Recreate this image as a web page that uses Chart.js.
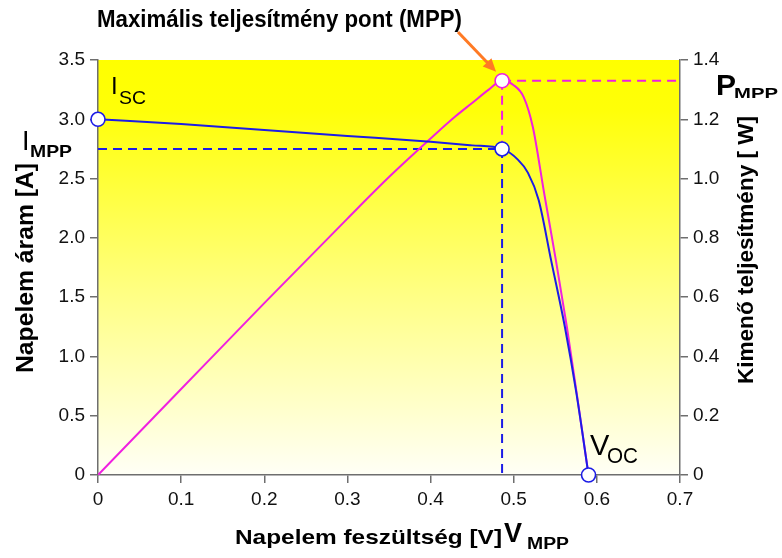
<!DOCTYPE html>
<html>
<head>
<meta charset="utf-8">
<script src="https://cdn.jsdelivr.net/npm/chart.js@4.4.1/dist/chart.umd.min.js"></script>
<style>
	body { margin: 0; background: #fff; }
	#chart { display: block; }
</style>
</head>
<body>
<canvas id="chart" width="782" height="558"></canvas>
<script>
// feszültség [V] és áram [A] a jelleggörbén
const voltsI = [0, 0.1, 0.2, 0.3, 0.4, 0.45, 0.486, 0.505, 0.517, 0.53, 0.545, 0.5615, 0.5754, 0.59];
const current = [3.0, 2.96, 2.91, 2.86, 2.81, 2.78, 2.75, 2.66, 2.55, 2.32, 1.81, 1.25, 0.69, 0];

// feszültség [V] és teljesítmény [W]
const voltsP = [0, 0.1, 0.2, 0.3, 0.35, 0.4, 0.43, 0.45, 0.47, 0.486, 0.5, 0.512, 0.523, 0.5366, 0.5507, 0.5639, 0.5757, 0.59];
const power = [0, 0.29, 0.58, 0.865, 1.005, 1.135, 1.21, 1.255, 1.30, 1.33, 1.315, 1.275, 1.174, 0.951, 0.725, 0.50, 0.277, 0];

// jellemző pontok
const vMpp = 0.486;
const iMpp = 2.75;
const pMpp = 1.33;
const iSc = 3.0;
const vOc = 0.59;

const xTicks = [0, 0.1, 0.2, 0.3, 0.4, 0.5, 0.6, 0.7];
const xLabels = ['0', '0.1', '0.2', '0.3', '0.4', '0.5', '0.6', '0.7'];
const yTicks = [0, 0.5, 1, 1.5, 2, 2.5, 3, 3.5];
const yLabels = ['0', '0.5', '1.0', '1.5', '2.0', '2.5', '3.0', '3.5'];
const y1Ticks = [0, 0.2, 0.4, 0.6, 0.8, 1.0, 1.2, 1.4];
const y1Labels = ['0', '0.2', '0.4', '0.6', '0.8', '1.0', '1.2', '1.4'];

const BLUE = '#1c1ce6';
const PINK = '#f020e0';
const AXIS = '#6e6e6e';
const FONT = '"Liberation Sans", Arial';

const toPts = (xs, ys) => xs.map((x, i) => ({x, y: ys[i]}));

// szöveg, ha kell adott szélességre sűrítve
function fitText(c, text, x, y, font, w, rot) {
	c.save();
	c.font = font;
	const m = c.measureText(text).width;
	c.translate(x, y);
	if (rot) c.rotate(rot);
	if (w) c.scale(w / m, 1);
	c.textAlign = 'left';
	c.textBaseline = 'alphabetic';
	c.fillText(text, 0, 0);
	c.restore();
}

const bgPlugin = {
	id: 'bg',
	beforeDraw(chart) {
		const {ctx: c, chartArea: a} = chart;
		const g = c.createLinearGradient(0, a.top, 0, a.bottom);
		g.addColorStop(0, '#ffff00');
		g.addColorStop(0.12, '#ffff08');
		g.addColorStop(0.55, '#ffff80');
		g.addColorStop(1, '#fffff6');
		c.save();
		c.fillStyle = g;
		c.fillRect(a.left, a.top, a.right - a.left, a.bottom - a.top);
		c.restore();
	}
};

const textPlugin = {
	id: 'texts',
	afterDraw(chart) {
		const c = chart.ctx;
		const xs = chart.scales.x;
		const ys1 = chart.scales.y1;
		c.save();
		c.fillStyle = '#000';

		fitText(c, 'Maximális teljesítmény pont (MPP)', 97, 27, 'bold 24px ' + FONT, 365);
		fitText(c, 'Napelem feszültség [V]', 235, 544, 'bold 21px ' + FONT, 267);
		fitText(c, 'V', 504, 542, 'bold 27px ' + FONT);
		fitText(c, 'MPP', 527, 549, 'bold 16px ' + FONT, 42);

		fitText(c, 'Napelem áram [A]', 33, 373, 'bold 23px ' + FONT, 210, -Math.PI / 2);
		fitText(c, 'I', 22, 150, '27px ' + FONT);
		fitText(c, 'MPP', 30, 157, 'bold 17px ' + FONT, 42);

		fitText(c, 'Kimenő teljesítmény [ W]', 753, 384, 'bold 22px ' + FONT, 268, -Math.PI / 2);
		fitText(c, 'P', 716, 95, 'bold 30px ' + FONT);
		fitText(c, 'MPP', 734, 98, 'bold 15px ' + FONT, 44);

		fitText(c, 'I', 111, 94, '24px ' + FONT);
		fitText(c, 'SC', 119, 104, '18px ' + FONT, 27);
		fitText(c, 'V', 590, 455, '29px ' + FONT);
		fitText(c, 'OC', 607, 463, '22px ' + FONT, 31);

		// nyíl az MPP ponthoz
		const tx = xs.getPixelForValue(vMpp) - 6;
		const ty = ys1.getPixelForValue(pMpp) - 9;
		const sx = 458, sy = 32;
		const ang = Math.atan2(ty - sy, tx - sx);
		c.strokeStyle = '#ff7a24';
		c.fillStyle = '#ff7a24';
		c.lineWidth = 3;
		c.beginPath();
		c.moveTo(sx, sy);
		c.lineTo(tx - 10 * Math.cos(ang), ty - 10 * Math.sin(ang));
		c.stroke();
		c.beginPath();
		c.moveTo(tx, ty);
		c.lineTo(tx - 13 * Math.cos(ang) + 6 * Math.sin(ang), ty - 13 * Math.sin(ang) - 6 * Math.cos(ang));
		c.lineTo(tx - 13 * Math.cos(ang) - 6 * Math.sin(ang), ty - 13 * Math.sin(ang) + 6 * Math.cos(ang));
		c.closePath();
		c.fill();
		c.restore();
	}
};

const tickFont = {family: FONT, size: 19};

function axis(ticks, labels, extra) {
	return Object.assign({
		type: 'linear',
		min: ticks[0],
		max: ticks[ticks.length - 1],
		afterBuildTicks: s => { s.ticks = ticks.map(v => ({value: v})); },
		grid: {drawOnChartArea: false, drawTicks: true, tickLength: 8, color: AXIS, lineWidth: 1.5},
		border: {display: true, color: AXIS, width: 1.5},
		ticks: {font: tickFont, color: '#111', padding: 5, callback: (v, i) => labels[i]}
	}, extra);
}

const dotStyle = {showLine: false, pointRadius: 7, pointHoverRadius: 7, pointBackgroundColor: '#fff', pointBorderWidth: 1.6, clip: false};

new Chart(document.getElementById('chart'), {
	type: 'scatter',
	data: {
		datasets: [
			Object.assign({data: [{x: vMpp, y: pMpp}], yAxisID: 'y1', pointBorderColor: PINK}, dotStyle),
			Object.assign({data: [{x: 0, y: iSc}, {x: vMpp, y: iMpp}, {x: vOc, y: 0}], yAxisID: 'y', pointBorderColor: BLUE}, dotStyle),
			{
				data: toPts(voltsI, current), yAxisID: 'y', showLine: true, pointRadius: 0,
				borderColor: BLUE, borderWidth: 2, cubicInterpolationMode: 'monotone'
			},
			{
				data: toPts(voltsP, power), yAxisID: 'y1', showLine: true, pointRadius: 0,
				borderColor: PINK, borderWidth: 2, cubicInterpolationMode: 'monotone'
			},
			{
				data: [{x: 0, y: iMpp}, {x: vMpp, y: iMpp}], yAxisID: 'y', showLine: true, pointRadius: 0,
				borderColor: BLUE, borderWidth: 2, borderDash: [9, 6]
			},
			{
				data: [{x: vMpp, y: iMpp}, {x: vMpp, y: 0}], yAxisID: 'y', showLine: true, pointRadius: 0,
				borderColor: BLUE, borderWidth: 2, borderDash: [9, 6]
			},
			{
				data: [{x: vMpp, y: pMpp}, {x: 0.7, y: pMpp}], yAxisID: 'y1', showLine: true, pointRadius: 0,
				borderColor: PINK, borderWidth: 2, borderDash: [9, 6]
			},
			{
				data: [{x: vMpp, y: pMpp}, {x: vMpp, y: iMpp * 1.4 / 3.5}], yAxisID: 'y1', showLine: true, pointRadius: 0,
				borderColor: PINK, borderWidth: 2, borderDash: [9, 6]
			}
		]
	},
	options: {
		responsive: false,
		animation: false,
		devicePixelRatio: 1,
		layout: {padding: {top: 60, left: 0, right: 0, bottom: 0}},
		plugins: {legend: {display: false}, tooltip: {enabled: false}},
		scales: {
			x: axis(xTicks, xLabels, {position: 'bottom', afterFit: s => { s.height = 83; }}),
			y: axis(yTicks, yLabels, {position: 'left', afterFit: s => { s.width = 98; }}),
			y1: axis(y1Ticks, y1Labels, {position: 'right', afterFit: s => { s.width = 102; }})
		}
	},
	plugins: [bgPlugin, textPlugin]
});
</script>
</body>
</html>
